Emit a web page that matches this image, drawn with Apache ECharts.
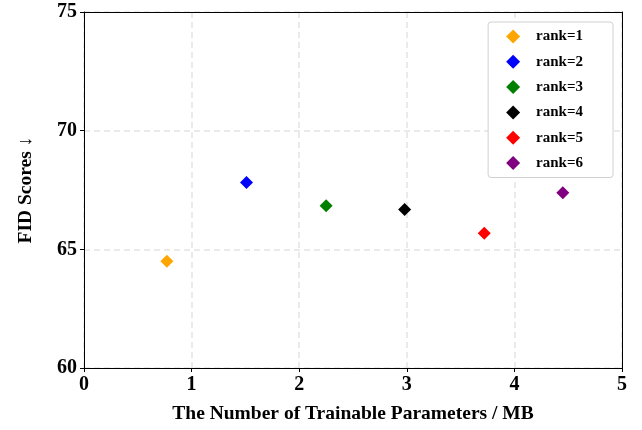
<!DOCTYPE html>
<html>
<head>
<meta charset="utf-8">
<script src="https://cdn.jsdelivr.net/npm/echarts@6/dist/echarts.min.js"></script>
<style>html,body{margin:0;padding:0;background:#fff}#c{width:642px;height:430px}</style>
</head>
<body>
<div id="c"></div>
<script>
const ranks = ['rank=1','rank=2','rank=3','rank=4','rank=5','rank=6'];
const params = [0.77, 1.51, 2.25, 2.98, 3.72, 4.45];
const fid = [64.5, 67.82, 66.84, 66.68, 65.68, 67.38];
const colors = ['#ffa500','#0000ff','#008000','#000000','#ff0000','#800080'];
const xTicks = [0,1,2,3,4,5];
const yTicks = [60,65,70,75];

const FONT = "'Liberation Serif','DejaVu Serif',serif";
const chart = echarts.init(document.getElementById('c'), null, {renderer:'canvas'});
const series = ranks.map((r,i)=>({
  name: r, type: 'scatter', symbol: 'diamond', symbolSize: 13,
  itemStyle: {color: colors[i], opacity: 1},
  data: [[params[i], fid[i]]], z: 5
}));
chart.setOption({
  animation: false,
  backgroundColor: '#fff',
  grid: {left: 84, right: 20, top: 12, bottom: 62, outerBoundsMode: 'none', containLabel: false},
  legend: {
    orient: 'vertical', right: 29, top: 22,
    itemWidth: 14, itemHeight: 14, itemGap: 10.3,
    padding: [7, 30, 7, 18],
    backgroundColor: '#fff', borderColor: '#d0d0d0', borderWidth: 1, borderRadius: 3,
    icon: 'diamond',
    textStyle: {fontFamily: FONT, fontWeight: 'bold', fontSize: 15, color: '#000', padding: [0,0,0,11]},
    data: ranks
  },
  xAxis: [{
    type: 'value', min: xTicks[0], max: xTicks[xTicks.length-1], interval: 1,
    name: 'The Number of Trainable Parameters / MB', nameLocation: 'middle', nameGap: 36,
    nameTextStyle: {fontFamily: FONT, fontWeight: 'bold', fontSize: 19.5, color: '#000'},
    axisLine: {show: true, onZero: false, lineStyle: {color: '#000', width: 1}},
    axisTick: {show: true, length: 4, lineStyle: {color: '#000'}},
    axisLabel: {fontFamily: FONT, fontWeight: 'bold', fontSize: 20, color: '#000', margin: 7},
    splitLine: {show: true, lineStyle: {color: '#e3e3e3', type: [6,4], width: 1.5}},
    z: 3
  }, {
    type: 'value', position: 'top', min: 0, max: 5, interval: 1,
    axisLine: {show: true, onZero: false, lineStyle: {color: '#000', width: 1}},
    axisTick: {show: false}, axisLabel: {show: false}, splitLine: {show: false}, z: 4
  }],
  yAxis: [{
    type: 'value', min: yTicks[0], max: yTicks[yTicks.length-1], interval: 5,
    name: 'FID Scores ↓', nameLocation: 'middle', nameGap: 48, nameRotate: 90,
    nameTextStyle: {fontFamily: FONT, fontWeight: 'bold', fontSize: 19.5, color: '#000'},
    axisLine: {show: true, onZero: false, lineStyle: {color: '#000', width: 1}},
    axisTick: {show: true, length: 4, lineStyle: {color: '#000'}},
    axisLabel: {fontFamily: FONT, fontWeight: 'bold', fontSize: 20, color: '#000', margin: 7, padding: [4,0,0,0]},
    splitLine: {show: true, lineStyle: {color: '#e3e3e3', type: [6,4], width: 1.5}},
    z: 3
  }, {
    type: 'value', position: 'right', min: 60, max: 75, interval: 5,
    axisLine: {show: true, onZero: false, lineStyle: {color: '#000', width: 1}},
    axisTick: {show: false}, axisLabel: {show: false}, splitLine: {show: false}, z: 4
  }],
  series: series
});
</script>
</body>
</html>
